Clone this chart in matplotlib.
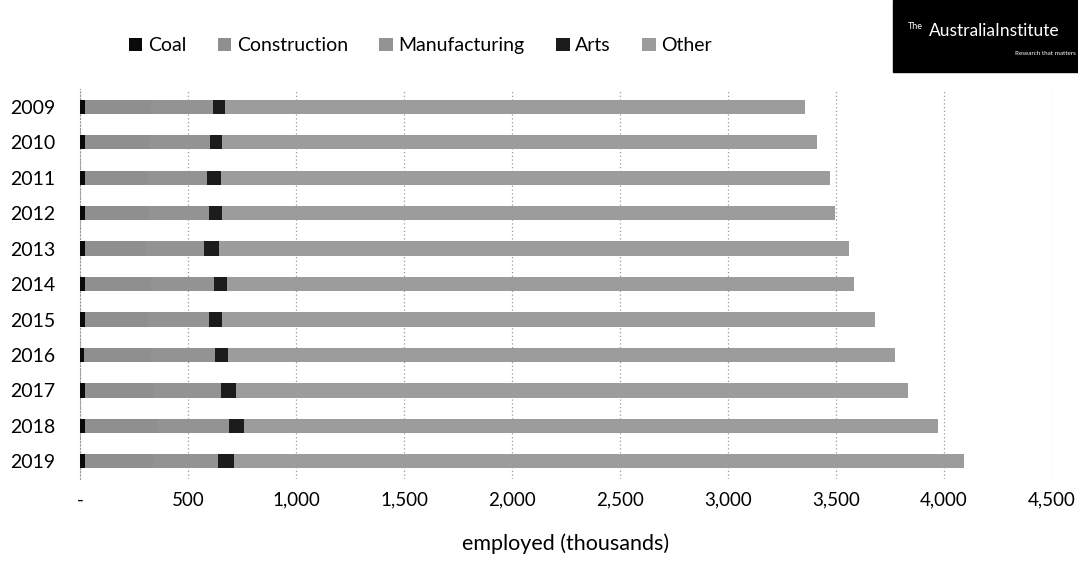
import numpy as np
import matplotlib
matplotlib.use("Agg")
import matplotlib.pyplot as plt
from matplotlib.patches import Rectangle
from matplotlib.ticker import FuncFormatter

plt.rcParams['font.family'] = ['Lato', 'DejaVu Sans']

years = ['2009', '2010', '2011', '2012', '2013', '2014', '2015', '2016', '2017', '2018', '2019']
coal = [22, 22, 24, 25, 24, 24, 22, 20, 22, 22, 22]
construction = [305, 300, 290, 295, 282, 305, 295, 310, 322, 340, 315]
manufacturing = [290, 282, 276, 279, 270, 293, 282, 297, 310, 329, 304]
arts = [55, 55, 65, 60, 69, 60, 60, 60, 69, 69, 74]
totals = [3355, 3410, 3470, 3493, 3558, 3581, 3682, 3774, 3834, 3972, 4092]
other = [t - (c + k + m + a) for t, c, k, m, a in
         zip(totals, coal, construction, manufacturing, arts)]

series = [
    ('Coal', coal, '#0a0a0a'),
    ('Construction', construction, '#8f8f8f'),
    ('Manufacturing', manufacturing, '#939393'),
    ('Arts', arts, '#1c1c1c'),
    ('Other', other, '#9c9c9c'),
]

fig = plt.figure(figsize=(10.78, 5.65), dpi=100)
ax = fig.add_axes([0.0742, 0.152, 0.9017, 0.6905])

y = np.arange(len(years))
left = np.zeros(len(years))
for name, vals, col in series:
    ax.barh(y, vals, left=left, height=0.4, color=col, label=name, zorder=3)
    left += np.array(vals)

ax.set_ylim(len(years) - 0.5, -0.5)
ax.set_yticks(y)
ax.set_yticklabels(years)
ax.set_xlim(0, 4500)
ax.set_xticks(np.arange(0, 4501, 500))
ax.xaxis.set_major_formatter(FuncFormatter(lambda v, p: '-' if v == 0 else f'{int(v):,}'))
ax.tick_params(axis='y', length=0, pad=18, labelsize=14)
ax.tick_params(axis='x', length=0, pad=9, labelsize=13.5)
ax.grid(axis='x', linestyle=(0, (1, 2)), color='#9a9a9a', linewidth=0.9, zorder=0)
for s in ['top', 'right', 'bottom']:
    ax.spines[s].set_visible(False)
ax.spines['left'].set_linestyle((0, (1, 2)))
ax.spines['left'].set_color('#9a9a9a')
ax.set_xlabel('employed (thousands)', fontsize=15.5, labelpad=18)

fig.legend(loc='center', bbox_to_anchor=(0.390, 0.919), ncol=5, frameon=False,
           fontsize=14, handlelength=0.7, handleheight=0.7, handletextpad=0.3,
           columnspacing=1.6)

# logo box
fig.patches.append(Rectangle((893 / 1078, 1 - 72 / 565), 185 / 1078, 72 / 565,
                             transform=fig.transFigure, color='black', zorder=5))
fig.text(0.842, 0.953, 'The', color='white', fontsize=6.5, va='center', zorder=6)
fig.text(0.862, 0.946, 'AustraliaInstitute', color='white', fontsize=12.5,
         va='center', zorder=6)
fig.text(0.942, 0.905, 'Research that matters', color='white', fontsize=4.5,
         va='center', zorder=6)

fig.savefig('out.png', dpi=100)
